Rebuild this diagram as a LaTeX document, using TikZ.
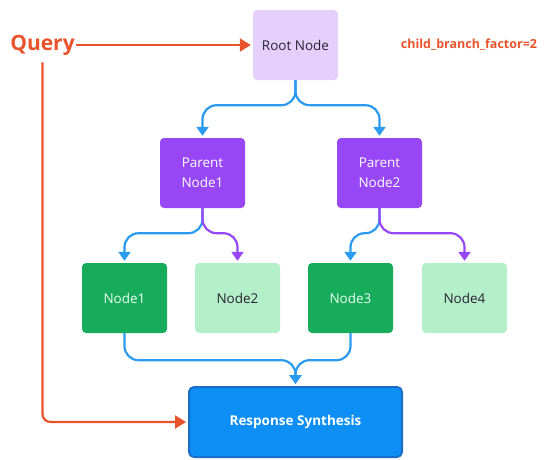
\documentclass[tikz,border=0pt]{standalone}
\usepackage{fontspec}
\setmainfont{Open Sans}
\usetikzlibrary{arrows.meta,calc}
\definecolor{qorange}{HTML}{E8532B}
\definecolor{rootfill}{HTML}{E5CFFB}
\definecolor{purp}{HTML}{9747F5}
\definecolor{dgreen}{HTML}{17AB5C}
\definecolor{lgreen}{HTML}{B3F0C9}
\definecolor{rblue}{HTML}{0D8FF5}
\definecolor{rborder}{HTML}{1C6DC8}
\definecolor{ablue}{HTML}{2A9BEF}
\definecolor{darktext}{HTML}{2B2233}
\begin{document}
\begin{tikzpicture}[x=1pt,y=-1pt,
  box/.style={rounded corners=4pt, minimum width=85pt, minimum height=70pt, inner sep=0pt, align=center, font=\fontsize{13.5}{20}\selectfont},
  rootbox/.style={box, fill=rootfill, text=darktext},
  parentbox/.style={box, fill=purp, text=white},
  darkleaf/.style={box, fill=dgreen, text=white!92!green},
  lightleaf/.style={box, fill=lgreen, text=darktext},
  respbox/.style={rounded corners=5pt, minimum width=213pt, minimum height=70pt, inner sep=0pt, fill=rblue, draw=rborder, line width=2pt, text=white, font=\bfseries\fontsize{13.5}{15}\selectfont},
  flow/.style={line width=2.2pt, rounded corners=14pt, -{Triangle[length=9pt,width=12pt]}, shorten >=2pt},
  blueflow/.style={flow, draw=ablue},
  purpflow/.style={flow, draw=purp},
  qflow/.style={line width=2.2pt, draw=qorange, -{Triangle[length=11pt,width=13pt]}, shorten >=2pt}
]
\useasboundingbox (0,0) rectangle (546,459);

\node[rootbox] (root) at (295.5,45) {Root Node};
\node[parentbox] (p1) at (202.5,173) {Parent\\Node1};
\node[parentbox] (p2) at (379.5,173) {Parent\\Node2};
\node[darkleaf] (n1) at (124.5,298) {Node1};
\node[lightleaf] (n2) at (237.5,298) {Node2};
\node[darkleaf] (n3) at (350.5,298) {Node3};
\node[lightleaf] (n4) at (464.5,298) {Node4};
\node[respbox] (resp) at (295.5,422) {Response Synthesis};

\node[text=qorange, font=\bfseries\fontsize{21}{24}\selectfont, inner sep=1pt] (query) at (42.5,45) {Query};
\node[text=qorange, font=\bfseries\fontsize{12.5}{14}\selectfont, inner sep=0pt] (cbf) at (469,45) {child\_branch\_factor=2};

% root to parents
\draw[blueflow] (root.south) -- ++(0,25) -| (p1.north);
\draw[blueflow] (root.south) -- ++(0,25) -| (p2.north);
% parents to leaves
\draw[blueflow] (p1.south) -- ++(0,25) -| (n1.north);
\draw[purpflow] (p1.south) -- ++(0,25) -| (n2.north);
\draw[blueflow] (p2.south) -- ++(0,25) -| (n3.north);
\draw[purpflow] (p2.south) -- ++(0,25) -| (n4.north);
% leaves to response
\draw[blueflow] (n1.south) -- ++(0,27) -| (resp.north);
\draw[blueflow] (n3.south) -- ++(0,27) -| (resp.north);

% query
\draw[qflow] (query.east) -- (root.west);
\draw[qflow, rounded corners=8pt, shorten <=6pt] (query.south) |- (resp.west);
\end{tikzpicture}
\end{document}
